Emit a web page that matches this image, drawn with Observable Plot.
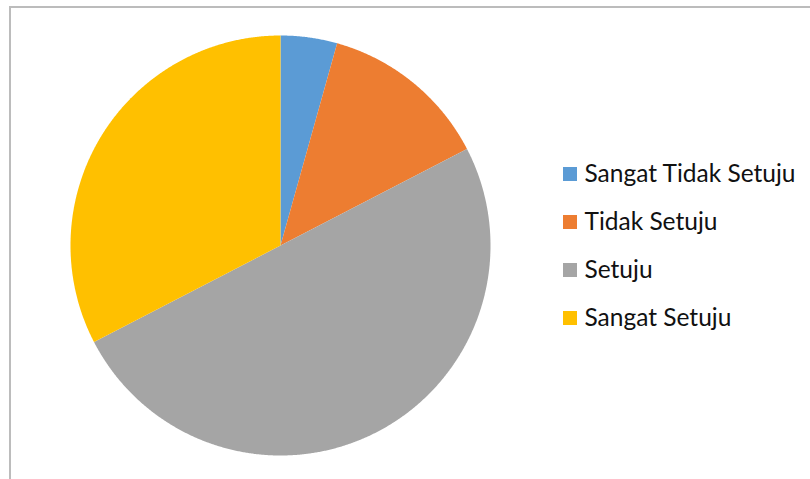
<!DOCTYPE html>
<html>
<head>
<meta charset="utf-8">
<script src="https://cdn.jsdelivr.net/npm/d3@7"></script>
<script src="https://cdn.jsdelivr.net/npm/@observablehq/plot@0.6"></script>
<style>
  html, body { margin: 0; padding: 0; background: #fff; }
  #wrap { position: relative; width: 810px; height: 479px; overflow: hidden; }
  #frame { position: absolute; left: 9px; top: 6px; width: 900px; height: 600px;
           border-top: 2px solid #bcbcbc; border-left: 2px solid #bcbcbc; box-sizing: border-box; }
  #chart { position: absolute; left: 0; top: 0; }
</style>
</head>
<body>
<div id="wrap"><div id="frame"></div><div id="chart"></div></div>
<script>
const categories = ["Sangat Tidak Setuju", "Tidak Setuju", "Setuju", "Sangat Setuju"];
const values = [4, 12, 46, 30];
const colors = ["#5B9BD5", "#ED7D31", "#A5A5A5", "#FFC000"];

const W = 810, H = 479;
const cx = 280, cy = 245, R = 210;

const data = categories.map((c, i) => ({cat: c, value: values[i]}));
const arcs = d3.pie().sort(null).value(d => d.value)(data);

const pts = [];
for (const a of arcs) {
  const cat = a.data.cat;
  pts.push({cat, x: cx, y: cy});
  const n = Math.max(2, Math.ceil((a.endAngle - a.startAngle) / 0.005));
  for (let k = 0; k <= n; k++) {
    const t = a.startAngle + (a.endAngle - a.startAngle) * k / n;
    pts.push({cat, x: cx + R * Math.sin(t), y: cy - R * Math.cos(t)});
  }
  pts.push({cat, x: cx, y: cy});
}

const lx = 563, ly0 = 174, ldy = 48, sq = 14;
const legend = categories.map((c, i) => ({cat: c, y: ly0 + i * ldy}));

const plot = Plot.plot({
  width: W, height: H,
  margin: 0,
  x: {domain: [0, W], range: [0, W], axis: null},
  y: {domain: [0, H], range: [0, H], axis: null},
  color: {domain: categories, range: colors},
  style: {background: "transparent", fontFamily: "Lato, sans-serif"},
  marks: [
    Plot.line(pts, {x: "x", y: "y", z: "cat", fill: "cat", stroke: null, curve: "linear"}),
    Plot.rect(legend, {x1: () => lx, x2: () => lx + sq, y1: d => d.y - sq / 2, y2: d => d.y + sq / 2, fill: "cat"}),
    Plot.text(legend, {x: () => lx + 21, y: "y", text: "cat", textAnchor: "start", fontSize: 24.5, fill: "#111", dy: 0})
  ]
});
document.getElementById("chart").appendChild(plot);
</script>
</body>
</html>
